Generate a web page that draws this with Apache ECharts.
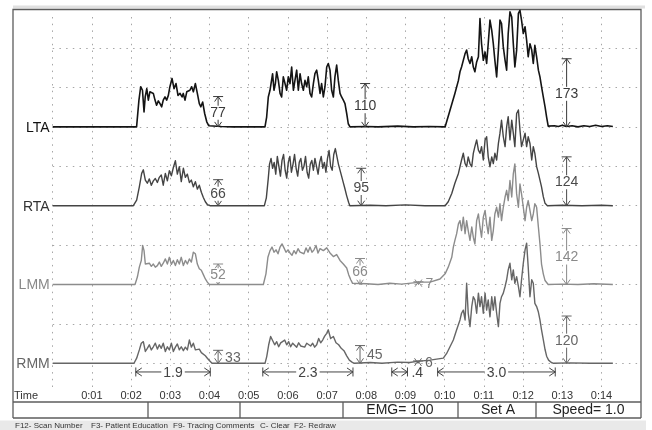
<!DOCTYPE html>
<html>
<head>
<meta charset="utf-8">
<title>EMG tracing</title>
<script src="https://cdn.jsdelivr.net/npm/echarts@6/dist/echarts.min.js"></script>
<style>
  html, body { margin: 0; padding: 0; background: #fff; }
  #chart { width: 652px; height: 430px; }
</style>
</head>
<body>
<div id="chart"></div>
<script>
// ---- data -------------------------------------------------------------
const channels = ['LTA', 'RTA', 'LMM', 'RMM'];
const timeLabels = ['0:01','0:02','0:03','0:04','0:05','0:06','0:07','0:08','0:09','0:10','0:11','0:12','0:13','0:14'];

// [seconds, microvolts]
const ltaTrace = [
  [0,0],[0.22,0],[0.25,3],[0.29,0],[1.22,0],[1.25,4],[1.29,0],[1.86,0],[1.89,3],[1.93,0],[2.14,0],
  [2.20,68],[2.245,102],[2.29,93],[2.33,38],[2.36,76],[2.40,97],[2.44,68],[2.48,89],[2.525,93],[2.567,85],
  [2.61,68],[2.65,55],[2.695,66],[2.737,59],[2.78,51],[2.82,68],[2.865,76],[2.907,68],[2.95,80],[2.99,102],
  [3.044,123],[3.095,97],[3.146,110],[3.196,80],[3.248,85],[3.30,76],[3.33,85],[3.375,68],[3.42,89],[3.46,85],
  [3.50,93],[3.545,102],[3.588,89],[3.64,110],[3.69,85],[3.74,59],[3.78,51],[3.826,63],[3.877,34],[3.93,13],
  [3.98,3],[4.03,0],[4.3,1],[4.58,0],[4.61,3],[4.65,0],[5.05,0],[5.08,3],[5.12,0],[5.415,0],
  [5.458,25],[5.50,76],[5.543,93],[5.577,97],[5.61,135],[5.645,93],[5.68,110],[5.713,140],[5.756,118],[5.80,85],
  [5.84,76],[5.883,127],[5.926,110],[5.968,93],[6.01,127],[6.053,110],[6.096,152],[6.14,93],[6.18,118],[6.224,144],
  [6.266,93],[6.31,135],[6.35,110],[6.394,93],[6.436,118],[6.48,102],[6.52,127],[6.564,85],[6.606,76],[6.65,110],
  [6.69,135],[6.734,144],[6.776,118],[6.82,85],[6.86,110],[6.904,76],[6.946,102],[6.99,152],[7.03,161],[7.074,144],
  [7.116,93],[7.16,76],[7.20,127],[7.244,157],[7.286,118],[7.33,85],[7.37,76],[7.414,68],[7.456,59],[7.50,34],
  [7.54,8],[7.584,0],[8.0,1],[8.3,0],[8.8,2],[9.2,0],[9.6,1],[10.01,0],
  [10.135,42],[10.26,85],[10.35,118],[10.39,140],[10.43,152],[10.475,157],[10.52,186],[10.56,195],[10.60,173],[10.645,161],
  [10.69,178],[10.73,152],[10.77,140],[10.815,165],[10.86,178],[10.90,275],[10.94,211],[10.985,169],[11.03,190],[11.07,161],
  [11.11,211],[11.155,271],[11.20,245],[11.24,211],[11.28,169],[11.325,127],[11.37,195],[11.41,271],[11.45,262],[11.495,203],
  [11.54,169],[11.58,144],[11.62,237],[11.665,292],[11.71,279],[11.75,211],[11.79,152],[11.835,195],[11.88,288],[11.92,296],
  [11.96,271],[12.005,237],[12.05,254],[12.09,220],[12.13,178],[12.175,211],[12.22,195],[12.26,161],[12.30,207],[12.345,178],
  [12.39,144],[12.43,127],[12.47,102],[12.515,76],[12.56,51],[12.60,25],[12.64,2],[12.69,0],
  [12.8,3],[12.9,1],[13.0,4],[13.1,1],[13.25,3],[13.4,0],[13.55,3],[13.7,1],[13.85,4],[14.0,1],[14.15,3],[14.29,1]
];

const rtaTrace = [
  [0,0],[0.24,0],[0.27,4],[0.30,0],[0.88,0],[0.91,3],[0.94,0],[1.22,0],[1.25,4],[1.28,0],[1.82,0],[1.85,5],[1.89,0],[2.057,0],
  [2.142,14],[2.21,48],[2.27,82],[2.312,91],[2.363,65],[2.414,57],[2.465,68],[2.516,52],[2.567,63],[2.618,69],
  [2.67,59],[2.72,72],[2.77,78],[2.82,52],[2.874,82],[2.925,63],[2.976,89],[3.027,76],[3.078,97],[3.13,114],
  [3.18,80],[3.23,99],[3.28,61],[3.333,95],[3.384,72],[3.435,80],[3.486,59],[3.537,65],[3.588,48],[3.64,61],
  [3.69,42],[3.74,52],[3.792,34],[3.843,21],[3.894,10],[3.945,3],[4.013,0],
  [4.6,0],[4.63,3],[4.67,0],[5.1,0],[5.13,3],[5.17,0],[5.40,0],
  [5.45,20],[5.50,70],[5.53,105],[5.57,120],[5.61,95],[5.65,110],[5.69,80],[5.73,125],[5.77,100],[5.81,75],
  [5.85,115],[5.89,130],[5.93,90],[5.97,70],[6.01,110],[6.05,125],[6.09,85],[6.13,105],[6.17,130],[6.21,95],
  [6.25,75],[6.29,110],[6.33,120],[6.37,90],[6.41,100],[6.45,125],[6.49,85],[6.53,70],[6.57,105],[6.61,115],
  [6.65,90],[6.69,120],[6.73,100],[6.77,80],[6.81,110],[6.85,125],[6.89,95],[6.93,110],[6.97,85],[7.01,120],
  [7.05,140],[7.09,100],[7.13,90],[7.17,130],[7.21,145],[7.25,150],[7.29,105],[7.33,100],[7.37,75],[7.41,60],
  [7.45,45],[7.50,25],[7.55,8],[7.58,0],[8.1,1],[8.5,0],[9.0,2],[9.5,0],[10.01,0],
  [10.09,10],[10.18,31],[10.26,57],[10.35,82],[10.43,116],[10.475,133],[10.52,107],[10.56,99],[10.60,124],[10.645,107],
  [10.69,99],[10.73,133],[10.77,150],[10.815,167],[10.86,141],[10.90,133],[10.94,150],[10.985,116],[11.03,167],[11.07,175],
  [11.11,124],[11.155,99],[11.20,124],[11.24,107],[11.28,133],[11.325,116],[11.37,158],[11.41,184],[11.45,217],[11.495,175],
  [11.54,150],[11.58,200],[11.62,226],[11.665,167],[11.71,217],[11.75,184],[11.79,150],[11.835,234],[11.88,243],[11.92,192],
  [11.96,150],[12.005,167],[12.05,184],[12.09,150],[12.13,175],[12.175,158],[12.22,116],[12.26,150],[12.30,133],[12.345,99],
  [12.39,82],[12.43,65],[12.47,48],[12.515,23],[12.56,6],[12.62,0],[13.0,1],[13.5,0],[14.0,1],[14.29,0]
];

const lmmTrace = [
  [0,0],[2.10,0],
  [2.16,19],[2.21,44],[2.26,61],[2.295,99],[2.33,86],[2.363,52],[2.414,48],[2.465,54],[2.516,46],[2.567,52],
  [2.618,44],[2.67,48],[2.72,57],[2.77,46],[2.82,54],[2.874,65],[2.925,52],[2.976,69],[3.027,51],[3.078,61],
  [3.13,48],[3.18,63],[3.23,52],[3.28,69],[3.333,48],[3.384,61],[3.435,52],[3.486,65],[3.537,57],[3.588,82],
  [3.64,78],[3.69,52],[3.74,40],[3.792,36],[3.843,25],[3.894,14],[3.945,6],[3.996,0],[5.374,0],
  [5.44,27],[5.49,69],[5.544,86],[5.595,95],[5.646,82],[5.697,88],[5.748,78],[5.80,95],[5.85,103],[5.90,93],
  [5.952,82],[6.003,88],[6.054,80],[6.105,74],[6.156,86],[6.207,78],[6.258,91],[6.31,82],[6.36,86],[6.41,78],
  [6.462,93],[6.513,82],[6.564,95],[6.615,82],[6.666,88],[6.717,99],[6.768,80],[6.82,91],[6.904,86],[6.99,93],
  [7.074,80],[7.16,71],[7.244,76],[7.33,61],[7.414,52],[7.50,42],[7.55,25],[7.60,13],[7.65,3],[7.69,0],
  [8.0,2],[8.3,0],[8.6,3],[8.9,1],[9.2,4],[9.4,6],[9.625,6],[9.88,14],
  [10.01,27],[10.09,44],[10.18,69],[10.22,95],[10.26,112],[10.305,129],[10.35,154],[10.39,162],[10.43,137],[10.475,171],
  [10.52,129],[10.56,162],[10.60,137],[10.645,112],[10.69,146],[10.73,120],[10.77,103],[10.815,162],[10.86,179],[10.90,146],
  [10.94,120],[10.985,171],[11.03,188],[11.07,154],[11.11,129],[11.155,171],[11.20,112],[11.24,137],[11.28,179],[11.325,196],
  [11.37,171],[11.41,205],[11.45,162],[11.495,196],[11.54,222],[11.58,239],[11.62,213],[11.665,264],[11.71,222],[11.75,281],
  [11.79,306],[11.835,230],[11.88,196],[11.92,255],[11.96,230],[12.005,196],[12.05,162],[12.09,196],[12.13,213],[12.175,188],
  [12.22,162],[12.26,179],[12.30,205],[12.345,196],[12.39,146],[12.43,103],[12.47,52],[12.515,27],[12.56,10],[12.64,0],
  [13.0,1],[13.4,0],[13.8,2],[14.29,0]
];

const rmmTrace = [
  [0,0],[2.074,0],
  [2.142,13],[2.21,34],[2.26,51],[2.312,55],[2.363,30],[2.414,38],[2.465,47],[2.516,34],[2.567,42],[2.618,51],
  [2.67,36],[2.72,47],[2.77,38],[2.82,51],[2.874,30],[2.925,42],[2.976,34],[3.027,51],[3.078,30],[3.13,41],
  [3.18,49],[3.23,34],[3.28,42],[3.333,32],[3.384,41],[3.435,34],[3.486,59],[3.537,41],[3.588,51],[3.64,34],
  [3.69,30],[3.74,36],[3.792,27],[3.843,30],[3.894,19],[3.945,13],[3.996,7],[4.064,0],[5.416,0],
  [5.46,17],[5.51,47],[5.56,68],[5.61,72],[5.663,47],[5.714,55],[5.765,42],[5.816,52],[5.867,47],[5.918,59],
  [5.969,47],[6.02,55],[6.07,42],[6.122,51],[6.173,47],[6.224,41],[6.275,52],[6.326,44],[6.377,49],[6.428,41],
  [6.48,51],[6.53,56],[6.58,44],[6.632,51],[6.683,41],[6.734,47],[6.785,63],[6.836,52],[6.887,59],[6.938,69],
  [6.99,76],[7.03,85],[7.09,63],[7.16,68],[7.227,52],[7.295,47],[7.36,38],[7.43,32],[7.50,19],[7.567,8],
  [7.635,3],[7.69,0],[8.1,2],[8.4,0],[8.8,3],[9.1,2],[9.3,5],[9.625,8],[9.965,13],
  [10.05,25],[10.135,42],[10.22,59],[10.305,85],[10.39,110],[10.43,127],[10.475,135],[10.52,110],[10.56,203],[10.60,127],
  [10.645,93],[10.69,144],[10.73,169],[10.77,161],[10.815,127],[10.86,178],[10.90,144],[10.94,169],[10.985,127],[11.03,178],
  [11.07,135],[11.11,161],[11.155,118],[11.20,169],[11.24,135],[11.28,169],[11.325,127],[11.37,93],[11.41,152],[11.45,169],
  [11.495,178],[11.54,195],[11.58,212],[11.62,237],[11.665,254],[11.71,212],[11.75,237],[11.79,203],[11.835,220],[11.88,195],
  [11.92,169],[11.96,212],[12.005,254],[12.05,288],[12.09,305],[12.13,245],[12.175,169],[12.22,212],[12.26,203],[12.30,152],
  [12.345,144],[12.39,130],[12.43,110],[12.47,85],[12.515,60],[12.56,35],[12.60,18],[12.65,8],[12.72,2],[12.78,0],
  [13.2,1],[13.7,0],[14.29,0]
];

// mean amplitude readouts: [seconds, microvolts]
const ltaMeans = [[4.22, 77], [7.97, 110], [13.11, 173]];
const rtaMeans = [[4.22, 66], [7.87, 95], [13.11, 124]];
const lmmMeans = [[4.22, 52], [7.84, 66], [9.33, 7], [13.11, 142]];
const rmmMeans = [[4.22, 33], [7.84, 45], [9.32, 6], [13.11, 120]];

// burst durations: [start seconds, length seconds]
const burstSpans = [[2.12, 1.9], [5.36, 2.3], [8.65, 0.4], [9.82, 3.0]];

const statusCells = ['EMG= 100', 'Set A', 'Speed= 1.0'];
const hotKeys = ['F12- Scan Number', 'F3- Patient Education', 'F9- Tracing Comments', 'C- Clear', 'F2- Redraw'];

// ---- layout / style ---------------------------------------------------
const FONT = '"Liberation Sans", Arial, Helvetica, sans-serif';
const DIV = 100;                 // microvolts per vertical division
const PLOT_LEFT = 52.7, PLOT_W = 588;
const GRID_DASH = [1.5, 5.2];
const GRID_COLOR = '#a6a6a6';
const SPAN_LEVEL = -22;          // row of the duration brackets under RMM

const tracks = [
  { trace: ltaTrace, means: ltaMeans, base: 6 * DIV, line: '#141414', width: 1.6, text: '#111', mark: '#3a3a3a' },
  { trace: rtaTrace, means: rtaMeans, base: 4 * DIV, line: '#444',    width: 1.4, text: '#333', mark: '#4a4a4a' },
  { trace: lmmTrace, means: lmmMeans, base: 2 * DIV, line: '#8c8c8c', width: 1.4, text: '#888', mark: '#8a8a8a' },
  { trace: rmmTrace, means: rmmMeans, base: 0,       line: '#666',    width: 1.4, text: '#666', mark: '#666' }
];

// vertical readout arrow from the baseline up to the mean level
function meanMarker(base, color) {
  return function (params, api) {
    const t = api.value(0), v = api.value(1);
    const p0 = api.coord([t, base]);
    const p1 = api.coord([t, base + v]);
    const x = p0[0], y0 = p0[1], y1 = p1[1];
    const s = { stroke: color, lineWidth: 1, fill: null };
    const tall = (y0 - y1) >= 19;
    return {
      type: 'group',
      children: [
        { type: 'line', shape: { x1: x, y1: y0, x2: x, y2: y1 }, style: s },
        { type: 'line', shape: { x1: x - 5, y1: y1, x2: x + 5, y2: y1 }, style: s },
        { type: 'polyline', shape: { points: [[x - 3.5, y1 + 5], [x, y1], [x + 3.5, y1 + 5]] }, style: s },
        { type: 'polyline', shape: { points: [[x - 3.5, y0 - 5], [x, y0], [x + 3.5, y0 - 5]] }, style: s },
        {
          type: 'text', z2: 10,
          style: {
            text: String(v), x: tall ? x : x + 6, y: (y0 + y1) / 2 + 1,
            align: tall ? 'center' : 'left', verticalAlign: 'middle',
            fill: color, fontSize: 14, fontFamily: FONT,
            backgroundColor: tall ? '#fff' : 'transparent', padding: [0, 1]
          }
        }
      ]
    };
  };
}

// horizontal duration bracket |<-- n.n -->|
function spanMarker(params, api) {
  const t0 = api.value(0), d = api.value(1);
  const a = api.coord([t0, SPAN_LEVEL]);
  const b = api.coord([t0 + d, SPAN_LEVEL]);
  const xa = a[0], xb = b[0], y = a[1];
  const s = { stroke: '#444', lineWidth: 1, fill: null };
  const wide = (xb - xa) > 40;
  const txt = d.toFixed(1).replace(/^0\./, '.');
  return {
    type: 'group',
    children: [
      { type: 'line', shape: { x1: xa, y1: y, x2: xb, y2: y }, style: s },
      { type: 'line', shape: { x1: xa, y1: y - 4.5, x2: xa, y2: y + 4.5 }, style: s },
      { type: 'line', shape: { x1: xb, y1: y - 4.5, x2: xb, y2: y + 4.5 }, style: s },
      { type: 'polyline', shape: { points: [[xa + 6, y - 4], [xa, y], [xa + 6, y + 4]] }, style: s },
      { type: 'polyline', shape: { points: [[xb - 6, y - 4], [xb, y], [xb - 6, y + 4]] }, style: s },
      {
        type: 'text', z2: 10,
        style: {
          text: txt, x: wide ? (xa + xb) / 2 : xb + 2, y: y + 1,
          align: wide ? 'center' : 'left', verticalAlign: 'middle',
          fill: '#444', fontSize: 14, fontFamily: FONT,
          backgroundColor: wide ? '#fff' : 'transparent', padding: [0, 2]
        }
      }
    ]
  };
}

// ---- series -----------------------------------------------------------
const series = [];
tracks.forEach(function (tk) {
  series.push({
    type: 'line', xAxisIndex: 1, yAxisIndex: 1,
    data: tk.trace.map(function (p) { return [p[0], p[1] + tk.base]; }),
    symbol: 'none', showSymbol: false, clip: false, silent: true, z: 3,
    lineStyle: { color: tk.line, width: tk.width, join: 'round' }
  });
});
tracks.forEach(function (tk) {
  series.push({
    type: 'custom', xAxisIndex: 1, yAxisIndex: 1, clip: false, silent: true, z: 6,
    data: tk.means, renderItem: meanMarker(tk.base, tk.mark)
  });
});
series.push({
  type: 'custom', xAxisIndex: 1, yAxisIndex: 1, clip: false, silent: true, z: 6,
  data: burstSpans, renderItem: spanMarker
});
// channel names at the left end of each baseline
series.push({
  type: 'custom', xAxisIndex: 1, yAxisIndex: 1, clip: false, silent: true, z: 6,
  data: tracks.map(function (tk) { return [0, tk.base]; }),
  renderItem: function (params, api) {
    const i = params.dataIndex;
    const p = api.coord([api.value(0), api.value(1)]);
    return {
      type: 'text',
      style: {
        text: channels[i], x: p[0] - 3, y: p[1] + 1, align: 'right', verticalAlign: 'middle',
        fill: tracks[i].text, fontSize: 14, fontFamily: FONT
      }
    };
  }
});

// ---- frame / status bar -------------------------------------------------
const frameStroke = { stroke: '#5c5c5c', lineWidth: 1.3, fill: null };
const graphic = [
  { type: 'rect', shape: { x: 0, y: 420.5, width: 646, height: 10 }, style: { fill: '#e9e9e9' }, silent: true },
  { type: 'line', shape: { x1: 13, y1: 7, x2: 645, y2: 7 }, style: { stroke: '#e0e0e0', lineWidth: 3 }, silent: true },
  { type: 'polyline', shape: { points: [[13, 418], [13, 9.5], [641, 9.5], [641, 418]] }, style: frameStroke, silent: true },
  { type: 'line', shape: { x1: 13, y1: 402, x2: 641, y2: 402 }, style: frameStroke, silent: true },
  { type: 'line', shape: { x1: 13, y1: 418, x2: 641, y2: 418 }, style: frameStroke, silent: true },
  { type: 'text', style: { text: 'Time', x: 14, y: 395.5, verticalAlign: 'middle', fill: '#333', fontSize: 11, fontFamily: FONT }, silent: true }
];
[148, 240, 343, 458, 536].forEach(function (x) {
  graphic.push({ type: 'line', shape: { x1: x, y1: 402, x2: x, y2: 418 }, style: frameStroke, silent: true });
});
[400, 498, 588.5].forEach(function (cx, i) {
  graphic.push({
    type: 'text', silent: true,
    style: { text: statusCells[i], x: cx, y: 410.5, align: 'center', verticalAlign: 'middle', fill: '#222', fontSize: 14, fontFamily: FONT }
  });
});
[15, 91, 173, 260, 294].forEach(function (x, i) {
  graphic.push({
    type: 'text', silent: true,
    style: { text: hotKeys[i], x: x, y: 426, verticalAlign: 'middle', fill: '#333', fontSize: 8, fontFamily: FONT }
  });
});

// ---- chart ------------------------------------------------------------
const chart = echarts.init(document.getElementById('chart'), null, { renderer: 'canvas' });
chart.setOption({
  animation: false,
  backgroundColor: '#fff',
  grid: [
    { left: PLOT_LEFT, width: PLOT_W, top: 17, height: 371, outerBoundsMode: 'none', containLabel: false },
    { left: PLOT_LEFT, width: PLOT_W, top: 48.1, height: 315.2, outerBoundsMode: 'none', containLabel: false }
  ],
  xAxis: [
    {
      type: 'value', gridIndex: 0, min: 0, max: 15, interval: 1,
      axisLine: { show: false }, axisTick: { show: false },
      axisLabel: {
        margin: 2, fontSize: 11, color: '#333', fontFamily: FONT,
        formatter: function (v) { return (v >= 1 && v <= timeLabels.length) ? timeLabels[v - 1] : ''; }
      },
      splitLine: { show: true, showMinLine: true, showMaxLine: false, lineStyle: { color: GRID_COLOR, type: GRID_DASH, width: 1 } }
    },
    {
      type: 'value', gridIndex: 1, min: 0, max: 15, interval: 1,
      axisLine: { show: false }, axisTick: { show: false }, axisLabel: { show: false }, splitLine: { show: false }
    }
  ],
  yAxis: [
    { type: 'value', gridIndex: 0, min: 0, max: 1, show: false },
    {
      type: 'value', gridIndex: 1, min: 0, max: 8 * DIV, interval: DIV,
      axisLine: { show: false }, axisTick: { show: false }, axisLabel: { show: false },
      splitLine: { show: true, showMinLine: true, showMaxLine: true, lineStyle: { color: GRID_COLOR, type: GRID_DASH, width: 1 } }
    }
  ],
  series: series,
  graphic: graphic
});
</script>
</body>
</html>
